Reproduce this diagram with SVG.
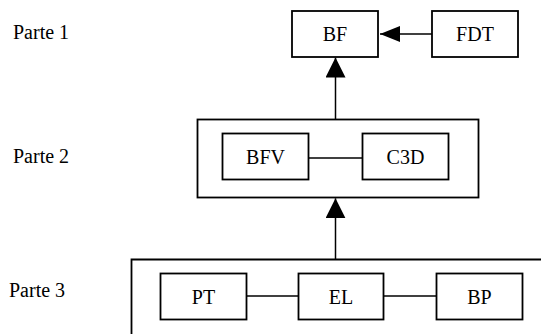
<svg xmlns="http://www.w3.org/2000/svg" width="541" height="334" viewBox="0 0 541 334">
<style>
text{font-family:'Liberation Serif','Times New Roman',serif;font-size:20px;fill:#000}
.c{text-anchor:middle}
.box{fill:#fff;stroke:#000;stroke-width:1.8}
.ln{stroke:#000;stroke-width:1.5;fill:none}
</style>
<defs>
<marker id="ah" viewBox="0 0 20 20" refX="20" refY="10" markerWidth="20" markerHeight="20" markerUnits="userSpaceOnUse" orient="auto">
<path d="M0,0 L20,10 L0,20 Z" fill="#000"/>
</marker>
<marker id="ahs" viewBox="0 0 20 16" refX="20" refY="8" markerWidth="20" markerHeight="16" markerUnits="userSpaceOnUse" orient="auto">
<path d="M0,0 L20,8 L0,16 Z" fill="#000"/>
</marker>
</defs>
<g id="labels">
<text x="13" y="39">Parte 1</text>
<text x="13" y="163">Parte 2</text>
<text x="9" y="297">Parte 3</text>
</g>
<g id="parte2-frame"><rect class="box" x="197.5" y="119.5" width="281" height="78"/></g>
<g id="parte3-frame"><path class="ln" style="stroke-width:1.8" d="M131.5,340 V259.5 H545"/></g>
<g id="connectors">
<line class="ln" x1="432" y1="34" x2="380" y2="34" marker-end="url(#ahs)"/>
<line class="ln" x1="335.5" y1="119" x2="335.5" y2="57.5" marker-end="url(#ah)"/>
<line class="ln" x1="335.5" y1="259" x2="335.5" y2="198.3" marker-end="url(#ah)"/>
<line class="ln" x1="308" y1="158" x2="363" y2="158"/>
<line class="ln" x1="246" y1="296" x2="298" y2="296"/>
<line class="ln" x1="383" y1="296" x2="436" y2="296"/>
</g>
<g id="BF"><rect class="box" x="292" y="11" width="86" height="46"/><text class="c" x="335" y="41">BF</text></g>
<g id="FDT"><rect class="box" x="432" y="11" width="86" height="46"/><text class="c" x="475" y="41">FDT</text></g>
<g id="BFV"><rect class="box" x="222.5" y="133.5" width="86" height="46"/><text class="c" x="265.5" y="164">BFV</text></g>
<g id="C3D"><rect class="box" x="362.5" y="133.5" width="86" height="46"/><text class="c" x="405.5" y="164">C3D</text></g>
<g id="PT"><rect class="box" x="160.5" y="273.5" width="86" height="46"/><text class="c" x="203.5" y="304">PT</text></g>
<g id="EL"><rect class="box" x="298.5" y="273.5" width="85" height="46"/><text class="c" x="341" y="304">EL</text></g>
<g id="BP"><rect class="box" x="436.5" y="273.5" width="86" height="46"/><text class="c" x="479.5" y="304">BP</text></g>
</svg>
